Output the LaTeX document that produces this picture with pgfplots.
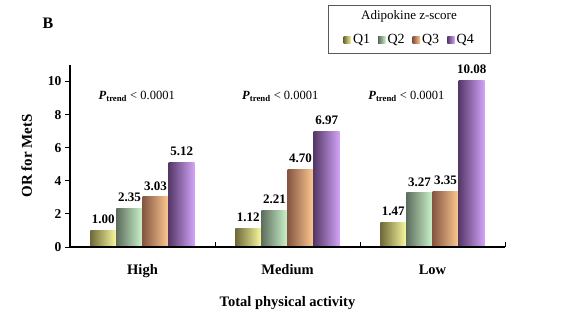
\documentclass[border=0pt]{standalone}
\usepackage{pgfplots}
\pgfplotsset{compat=1.18}
\usepackage{fontspec}
\setmainfont{Liberation Serif}
\definecolor{qAd}{HTML}{6E6A3A}\definecolor{qAl}{HTML}{FAFAA0}
\definecolor{qBd}{HTML}{5E6E5E}\definecolor{qBl}{HTML}{CCF4CC}
\definecolor{qCd}{HTML}{855642}\definecolor{qCl}{HTML}{FFCA92}
\definecolor{qDd}{HTML}{553868}\definecolor{qDl}{HTML}{D4A4FA}
\pgfplotsset{
  qA/.style={draw=none, left color=qAd, right color=qAl, bar shift=-0.27},
  qB/.style={draw=none, left color=qBd, right color=qBl, bar shift=-0.09},
  qC/.style={draw=none, left color=qCd, right color=qCl, bar shift=0.09},
  qD/.style={draw=none, left color=qDd, right color=qDl, bar shift=0.27},
}
\begin{document}
\begin{tikzpicture}
\path[use as bounding box] (0pt,0pt) rectangle (577pt,323pt);
\node[font=\fontsize{16}{18}\selectfont\bfseries] at (48pt,300pt) {B};
\draw[draw=black!65, line width=0.8pt] (328pt,270pt) rectangle (490pt,318pt);
\node[font=\fontsize{13}{15}\selectfont] at (409pt,307pt) {Adipokine z-score};
\begin{axis}[
  at={(70pt,76pt)}, anchor=south west,
  scale only axis, width=435pt, height=182pt,
  xmin=-0.5, xmax=2.5, ymin=0, ymax=11,
  axis lines=left, axis line style={-, line width=1.1pt},
  ytick={0,2,4,6,8,10},
  ytick style={line width=0.9pt},
  y tick label style={font=\fontsize{13.5}{15}\selectfont\bfseries},
  yticklabel={\pgfmathprintnumber[assume math mode=true]{\tick}\hspace{9pt}},
  tick align=outside, major tick length=5pt,
  xtick={-0.5,0.5,1.5,2.5}, xticklabels={},
  x tick style={line width=0.9pt, yshift=5pt},
  extra x ticks={0,1,2}, extra x tick labels={High,Medium,Low},
  extra x tick style={major tick length=0pt, tick style={draw=none}},
  x tick label style={font=\fontsize{14.5}{16}\selectfont\bfseries, text depth=0pt, yshift=-14pt},
  xlabel={Total physical activity},
  xlabel style={font=\fontsize{14.5}{16}\selectfont\bfseries, yshift=-10pt},
  ylabel={OR for MetS},
  ylabel style={font=\fontsize{15}{17}\selectfont\bfseries, yshift=9pt},
  ybar=0pt, bar width=0.18,
  nodes near coords={\pgfmathprintnumber[fixed,fixed zerofill,precision=2,assume math mode=true]{\pgfplotspointmeta}},
  every node near coord/.append style={font=\fontsize{13}{15}\selectfont\bfseries, yshift=3pt},
  legend columns=4,
  legend style={at={(axis description cs:0.781,1.137)}, anchor=center, draw=none, fill=none,
    font=\fontsize{14}{15}\selectfont, inner sep=1pt,
    /tikz/every even column/.append style={column sep=6pt}},
  legend image code/.code={\path[#1, draw=none] (0cm,-0.12cm) rectangle (0.26cm,0.14cm);},
  clip=false,
]
\addlegendimage{qA}\addlegendentry{Q1}
\addlegendimage{qB}\addlegendentry{Q2}
\addlegendimage{qC}\addlegendentry{Q3}
\addlegendimage{qD}\addlegendentry{Q4}
\addplot[qA, forget plot] coordinates {(0,1.00)};
\addplot[qA, forget plot] coordinates {(1,1.12)};
\addplot[qA, forget plot] coordinates {(2,1.47)};
\addplot[qB, forget plot] coordinates {(0,2.35)};
\addplot[qB, forget plot] coordinates {(1,2.21)};
\addplot[qB, forget plot] coordinates {(2,3.27)};
\addplot[qC, forget plot] coordinates {(0,3.03)};
\addplot[qC, forget plot] coordinates {(1,4.70)};
\addplot[qC, forget plot] coordinates {(2,3.35)};
\addplot[qD, forget plot] coordinates {(0,5.12)};
\addplot[qD, forget plot] coordinates {(1,6.97)};
\addplot[qD, forget plot] coordinates {(2,10.08)};
\node[font=\fontsize{12.5}{14}\selectfont] at (axis cs:-0.04,9.1) {\textbf{\textit{P}}\textsubscript{\textbf{trend}} < 0.0001};
\node[font=\fontsize{12.5}{14}\selectfont] at (axis cs:0.95,9.1) {\textbf{\textit{P}}\textsubscript{\textbf{trend}} < 0.0001};
\node[font=\fontsize{12.5}{14}\selectfont] at (axis cs:1.82,9.1) {\textbf{\textit{P}}\textsubscript{\textbf{trend}} < 0.0001};
\end{axis}
\draw[black, line width=1.1pt] (70pt,258pt) -- (70pt,76pt) -- (505pt,76pt);
\foreach \yy in {76,109.09,142.18,175.27,208.36,241.45}{\draw[black, line width=0.9pt] (70pt,\yy pt) -- (65pt,\yy pt);}
\foreach \xx in {215,360,505}{\draw[black, line width=0.9pt] (\xx pt,76pt) -- (\xx pt,81pt);}
\end{tikzpicture}
\end{document}
